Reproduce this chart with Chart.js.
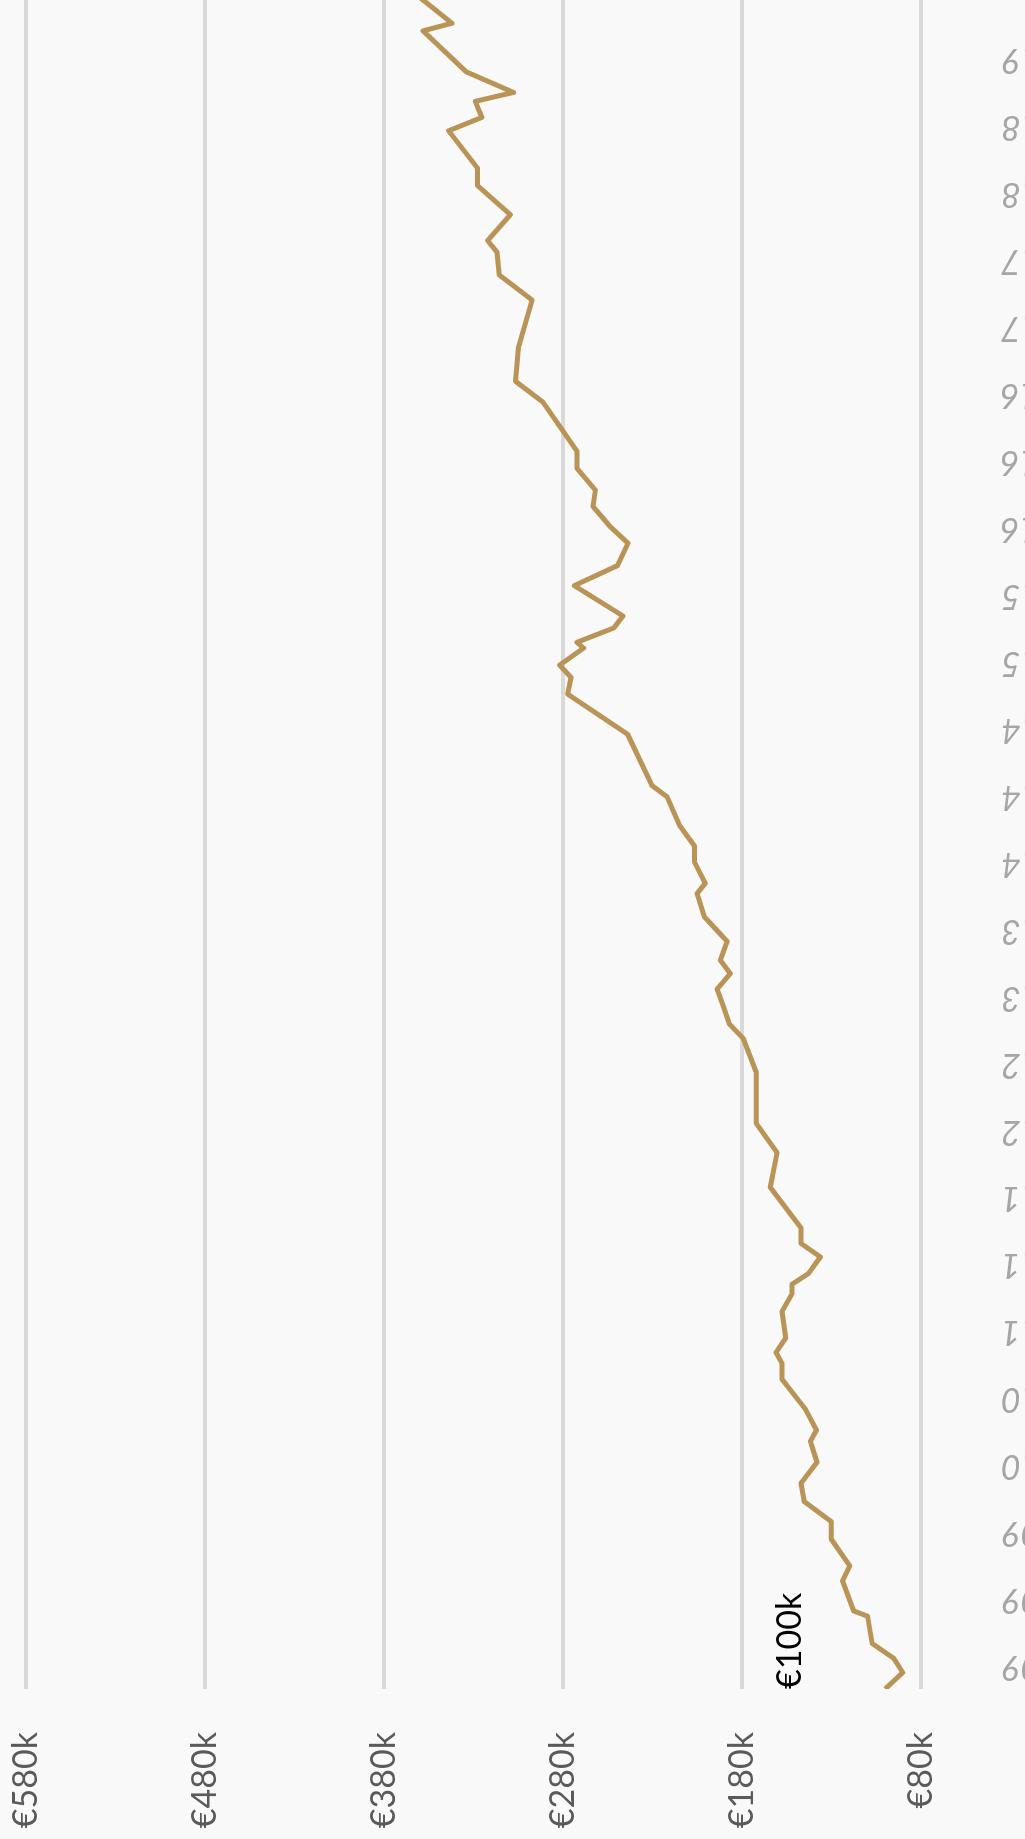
<!DOCTYPE html>
<html>
<head>
<meta charset="utf-8">
<title>Prijsontwikkeling</title>
<script src="https://cdn.jsdelivr.net/npm/chart.js@4.4.0/dist/chart.umd.min.js"></script>
<style>
  html, body { margin: 0; padding: 0; overflow: hidden; background: #f9f9f9; }
  body { width: 1025px; height: 1839px; position: relative; }
  #wrap {
    position: absolute; left: 0; top: 0;
    width: 1839px; height: 1140px;
    transform-origin: 0 0;
    transform: translate(0, 1839px) rotate(-90deg);
  }
</style>
</head>
<body>
<div id="wrap"><canvas id="myChart" width="1839" height="1140"></canvas></div>
<script>
// sale dates and prices (k€)
const saleDates = [
  '2008-11-12','2008-12-19','2009-01-21','2009-02-24','2009-04-25','2009-05-07','2009-07-14','2009-08-18','2009-10-18','2009-11-27',
  '2010-01-12','2010-02-23','2010-04-10','2010-05-27','2010-06-22','2010-08-09','2010-10-16','2010-11-21','2010-12-16','2011-01-18',
  '2011-03-18','2011-04-28','2011-05-19','2011-06-13','2011-07-20','2011-08-20','2011-09-25','2011-12-26','2012-03-14','2012-05-19',
  '2012-09-13','2012-11-30','2013-01-02','2013-02-13','2013-03-20','2013-04-25','2013-05-25','2013-07-07','2013-09-02','2013-10-24',
  '2013-11-17','2014-01-05','2014-02-11','2014-03-26','2014-06-01','2014-06-26','2014-10-21','2015-01-21','2015-02-28','2015-03-26',
  '2015-05-04','2015-05-17','2015-06-19','2015-07-16','2015-09-24','2015-11-09','2015-12-29','2016-02-06','2016-03-21','2016-04-28',
  '2016-06-17','2016-07-25','2016-11-15','2017-01-02','2017-03-19','2017-07-04','2017-08-30','2017-10-21','2017-11-17','2018-01-15',
  '2018-03-20','2018-04-29','2018-07-23','2018-08-23','2018-09-29','2018-10-19','2018-12-05','2019-03-07','2019-03-24','2019-06-08'
];
const prices = [
  100, 90.2, 95.3, 107.3, 109.8, 117.6, 123.8, 119.8, 130.2, 130.2,
  145.2, 147.0, 138.1, 141.8, 138.4, 144.6, 157.6, 157.6, 161.0, 155.6,
  157.6, 152.0, 152.0, 142.8, 136.2, 147.0, 147.0, 164.2, 160.4, 172.0,
  172.0, 179.4, 187.1, 190.6, 193.9, 186.5, 192.1, 188.3, 201.0, 205.1,
  200.5, 206.6, 206.6, 214.8, 221.9, 230.3, 243.9, 277.4, 275.5, 281.9,
  268.5, 272.2, 251.7, 246.5, 273.7, 249.5, 243.7, 253.6, 263.2, 261.9,
  272.2, 272.2, 291.2, 306.6, 304.8, 297.3, 315.6, 316.9, 322.1, 309.4,
  327.7, 327.7, 343.9, 325.3, 329.0, 307.6, 334.0, 358.2, 342.0, 365.0
];
const tickDates = [
  '2009-01-01','2009-06-01','2009-11-01','2010-04-01','2010-09-01','2011-02-01','2011-07-01','2011-12-01',
  '2012-05-01','2012-10-01','2013-03-01','2013-08-01','2014-01-01','2014-06-01','2014-11-01','2015-04-01',
  '2015-09-01','2016-02-01','2016-07-01','2016-12-01','2017-05-01','2017-10-01','2018-03-01','2018-08-01','2019-01-01'
];
const priceTicks = [80, 180, 280, 380, 480, 580];
const axisStart = '2008-11-12';
const axisEnd = '2019-05-16';

const maanden = ['Jan','Feb','Mar','Apr','May','Jun','Jul','Aug','Sep','Oct','Nov','Dec'];

// months since jan 2009
const toMonths = (s) => {
  const [y, m, d] = s.split('-').map(Number);
  return (y - 2009) * 12 + (m - 1) + (d - 1) / 30;
};

const monthLabel = (v) => {
  const n = Math.round(v);
  const y = 2009 + Math.floor(n / 12);
  const m = ((n % 12) + 12) % 12;
  return `${maanden[m]} ${y}`;
};

const punten = saleDates.map((d, i) => ({ x: toMonths(d), y: prices[i] }));

// label next to the first sale
const eersteLabel = {
  id: 'eersteLabel',
  afterDatasetsDraw(chart) {
    const p = chart.getDatasetMeta(0).data[0];
    if (!p) return;
    const ctx = chart.ctx;
    ctx.save();
    ctx.font = '400 34px Lato';
    ctx.fillStyle = '#000';
    ctx.textAlign = 'left';
    ctx.textBaseline = 'middle';
    ctx.fillText('€' + Math.round(prices[0]) + 'k', p.x, p.y - 95);
    ctx.restore();
  }
};

const ctx = document.getElementById('myChart').getContext('2d');
const myChart = new Chart(ctx, {
  type: 'line',
  data: {
    datasets: [{
      data: punten,
      borderColor: '#b99456',
      borderWidth: 5,
      borderJoinStyle: 'round',
      pointRadius: 0,
      tension: 0,
      fill: false
    }]
  },
  options: {
    responsive: false,
    animation: false,
    layout: { padding: { top: 26, right: 0, bottom: 0, left: 0 } },
    plugins: { legend: { display: false }, tooltip: { enabled: false } },
    scales: {
      x: {
        type: 'linear',
        min: toMonths(axisStart),
        max: toMonths(axisEnd),
        grid: { display: false },
        border: { display: false },
        afterBuildTicks: (scale) => { scale.ticks = tickDates.map(d => ({ value: toMonths(d) })); },
        afterFit: (scale) => { scale.height = 1140 - 921; scale.paddingLeft = 0; scale.paddingRight = 0; },
        ticks: {
          autoSkip: false,
          minRotation: 90,
          maxRotation: 90,
          padding: 72,
          color: '#a6a6a6',
          font: { family: 'Lato', style: 'italic', weight: 400, size: 34 },
          callback: (v) => monthLabel(v)
        }
      },
      y: {
        min: 80,
        max: 580,
        grid: { color: '#d9d9d9', lineWidth: 4, drawTicks: false },
        border: { display: false },
        afterBuildTicks: (scale) => { scale.ticks = priceTicks.map(v => ({ value: v })); },
        afterFit: (scale) => { scale.width = 150; scale.paddingTop = 0; scale.paddingBottom = 0; },
        ticks: {
          padding: 43,
          color: '#5a5a5a',
          font: { family: 'Lato', weight: 400, size: 34 },
          callback: (v) => '€' + v + 'k'
        }
      }
    }
  },
  plugins: [eersteLabel]
});
</script>
</body>
</html>
